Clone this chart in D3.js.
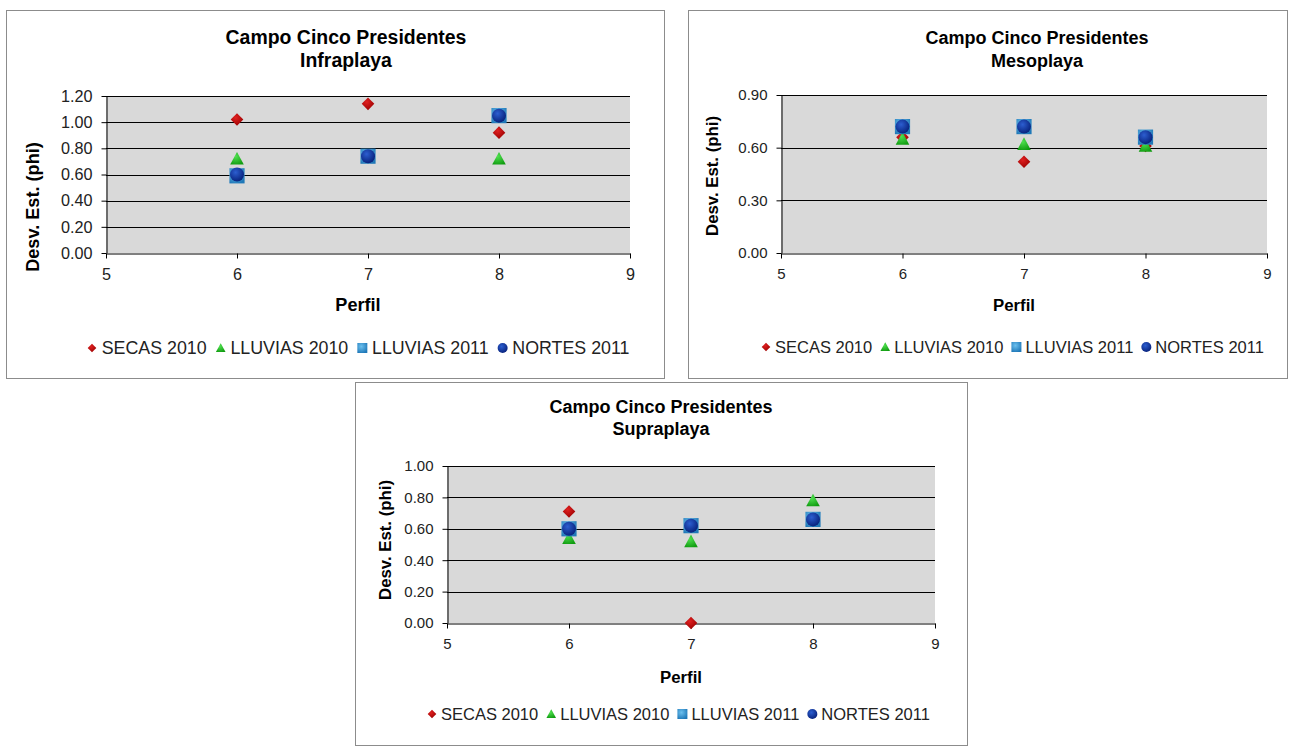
<!DOCTYPE html>
<html>
<head>
<meta charset="utf-8">
<script src="https://cdn.jsdelivr.net/npm/d3@7"></script>
<style>
  html, body { margin: 0; padding: 0; background: #ffffff; }
  svg { display: block; font-family: "Liberation Sans", Arial, sans-serif; }
</style>
</head>
<body>
<svg id="chart" width="1291" height="746"></svg>
<script>
// ---------- DATA ----------
const perfiles = [6, 7, 8];
const xTicks = [5, 6, 7, 8, 9];
const seriesNames = ["SECAS 2010", "LLUVIAS 2010", "LLUVIAS 2011", "NORTES 2011"];
const titleLine1 = "Campo Cinco Presidentes";
const zoneNames = ["Infraplaya", "Mesoplaya", "Supraplaya"];
const yAxisTitle = "Desv. Est. (phi)";
const xAxisTitle = "Perfil";

// Infraplaya
const infraSecas2010   = [1.02, 1.14, 0.92];
const infraLluvias2010 = [0.72, 0.74, 0.72];
const infraLluvias2011 = [0.59, 0.74, 1.05];
const infraNortes2011  = [0.60, 0.74, 1.05];
const infraYTicks = [0, 0.2, 0.4, 0.6, 0.8, 1.0, 1.2];

// Mesoplaya
const mesoSecas2010   = [0.66, 0.52, 0.61];
const mesoLluvias2010 = [0.65, 0.62, 0.61];
const mesoLluvias2011 = [0.72, 0.72, 0.66];
const mesoNortes2011  = [0.72, 0.72, 0.66];
const mesoYTicks = [0, 0.3, 0.6, 0.9];

// Supraplaya
const supraSecas2010   = [0.71, 0.00, 0.66];
const supraLluvias2010 = [0.54, 0.52, 0.78];
const supraLluvias2011 = [0.60, 0.62, 0.66];
const supraNortes2011  = [0.60, 0.62, 0.66];
const supraYTicks = [0, 0.2, 0.4, 0.6, 0.8, 1.0];

// ---------- LAYOUT ----------
const panels = [
  { name: zoneNames[0], series: [infraSecas2010, infraLluvias2010, infraLluvias2011, infraNortes2011], yTicks: infraYTicks,
    box: [6, 10, 664, 378], plot: [106, 96, 630, 253], titleX: 346, titleY: [44, 67],
    ylab: [33, 207], xlab: [358, 311], legX: 92, legY: 354, k: 1.08 },
  { name: zoneNames[1], series: [mesoSecas2010, mesoLluvias2010, mesoLluvias2011, mesoNortes2011], yTicks: mesoYTicks,
    box: [688, 10, 1287, 378], plot: [781, 95, 1267, 253], titleX: 1037, titleY: [44, 67],
    ylab: [712, 176], xlab: [1014, 311], legX: 766, legY: 353, k: 1.0 },
  { name: zoneNames[2], series: [supraSecas2010, supraLluvias2010, supraLluvias2011, supraNortes2011], yTicks: supraYTicks,
    box: [355, 382, 967, 745], plot: [447, 466, 935, 623], titleX: 661, titleY: [413, 435],
    ylab: [385, 540], xlab: [681, 683], legX: 432, legY: 720, k: 1.0 }
];

const svg = d3.select("#chart");
const defs = svg.append("defs");

// gradients for markers
function radial(id, c0, c1) {
  const g = defs.append("radialGradient").attr("id", id).attr("cx", "40%").attr("cy", "35%").attr("r", "70%");
  g.append("stop").attr("offset", "0%").attr("stop-color", c0);
  g.append("stop").attr("offset", "100%").attr("stop-color", c1);
}
radial("gDiamond", "#e02020", "#9a0000");
radial("gTri", "#4fe04f", "#119c11");
radial("gSquare", "#6cc0ee", "#1f78b8");
radial("gCircle", "#2c5ed0", "#061f78");

// marker shape generators (size = half width)
const shapes = [
  s => `M0,${-s}L${s},0L0,${s}L${-s},0Z`,
  s => `M0,${-s}L${s},${s * 0.85}L${-s},${s * 0.85}Z`,
  s => `M${-s},${-s}H${s}V${s}H${-s}Z`,
  s => `M${-s},0A${s},${s} 0 1,0 ${s},0A${s},${s} 0 1,0 ${-s},0Z`
];
const fills = ["url(#gDiamond)", "url(#gTri)", "url(#gSquare)", "url(#gCircle)"];
const plotSizes = [6.3, 6.8, 7.6, 7.0];
const legSizes = [4.3, 4.8, 5, 5];

panels.forEach(p => {
  const k = p.k;
  const g = svg.append("g");
  // panel border
  g.append("rect")
    .attr("x", p.box[0] + 0.5).attr("y", p.box[1] + 0.5)
    .attr("width", p.box[2] - p.box[0]).attr("height", p.box[3] - p.box[1])
    .attr("fill", "#ffffff").attr("stroke", "#8c8c8c").attr("stroke-width", 1);

  // titles
  g.append("text").attr("x", p.titleX).attr("y", p.titleY[0]).attr("text-anchor", "middle")
    .attr("font-weight", "bold").attr("font-size", 18 * k).attr("fill", "#000").text(titleLine1);
  g.append("text").attr("x", p.titleX).attr("y", p.titleY[1]).attr("text-anchor", "middle")
    .attr("font-weight", "bold").attr("font-size", 18 * k).attr("fill", "#000").text(p.name);

  const [x0, y0, x1, y1] = p.plot;
  const yMax = p.yTicks[p.yTicks.length - 1];
  const x = d3.scaleLinear().domain([xTicks[0], xTicks[xTicks.length - 1]]).range([x0, x1]);
  const y = d3.scaleLinear().domain([0, yMax]).range([y1, y0]);

  // plot background
  g.append("rect").attr("x", x0).attr("y", y0).attr("width", x1 - x0).attr("height", y1 - y0)
    .attr("fill", "#d9d9d9");

  // gridlines
  g.append("g").selectAll("line").data(p.yTicks.filter(d => d > 0)).join("line")
    .attr("x1", x0).attr("x2", x1)
    .attr("y1", d => Math.round(y(d)) + 0.5).attr("y2", d => Math.round(y(d)) + 0.5)
    .attr("stroke", "#000").attr("stroke-width", 1);

  // axes
  const yAxis = g.append("g").attr("transform", `translate(${x0 + 0.5},0)`)
    .call(d3.axisLeft(y).tickValues(p.yTicks).tickFormat(d3.format(".2f")).tickSize(5).tickPadding(9).tickSizeOuter(0));
  const xAxis = g.append("g").attr("transform", `translate(0,${Math.round(y1) + 0.5})`)
    .call(d3.axisBottom(x).tickValues(xTicks).tickFormat(d3.format("d")).tickSize(5).tickPadding(10).tickSizeOuter(0));
  [yAxis, xAxis].forEach(a => {
    a.select(".domain").attr("stroke", "#000");
    a.selectAll(".tick line").attr("stroke", "#000");
    a.selectAll(".tick text").attr("fill", "#222").attr("font-size", 15 * k)
      .attr("font-family", "\"Liberation Sans\", Arial, sans-serif");
  });

  // axis titles
  g.append("text").attr("transform", `translate(${p.ylab[0]},${p.ylab[1]}) rotate(-90)`)
    .attr("text-anchor", "middle").attr("dominant-baseline", "central")
    .attr("font-weight", "bold").attr("font-size", 16.8 * k).attr("fill", "#000").text(yAxisTitle);
  g.append("text").attr("x", p.xlab[0]).attr("y", p.xlab[1]).attr("text-anchor", "middle")
    .attr("font-weight", "bold").attr("font-size", 16.8 * k).attr("fill", "#000").text(xAxisTitle);

  // markers
  p.series.forEach((vals, si) => {
    g.append("g").selectAll("path").data(vals.map((v, i) => ({ x: perfiles[i], y: v }))).join("path")
      .attr("transform", d => `translate(${x(d.x)},${y(d.y)})`)
      .attr("d", shapes[si](plotSizes[si]))
      .attr("fill", fills[si]);
  });

  // legend
  const leg = g.append("g");
  let cx = p.legX;
  seriesNames.forEach((nm, si) => {
    leg.append("path").attr("transform", `translate(${cx},${p.legY - 6})`)
      .attr("d", shapes[si](legSizes[si])).attr("fill", fills[si]);
    const t = leg.append("text").attr("x", cx + 9 * k).attr("y", p.legY)
      .attr("font-size", 16.5 * k).attr("fill", "#222").text(nm);
    const w = t.node().getComputedTextLength();
    cx = cx + 9 * k + w + 13 * k;
  });
});
</script>
</body>
</html>
